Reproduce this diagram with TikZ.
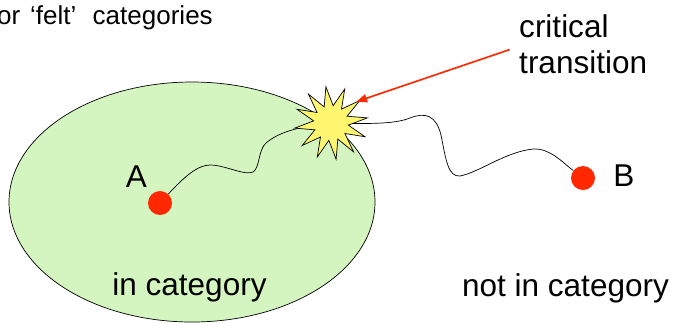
\documentclass[tikz,border=0pt]{standalone}
\usepackage{fontspec}
\setmainfont{Liberation Sans}
\usepackage{xcolor}
\usetikzlibrary{positioning, arrows.meta, shapes.geometric, backgrounds}
\definecolor{catgreen}{RGB}{212,245,192}
\definecolor{dotred}{RGB}{255,40,0}
\definecolor{burstyellow}{RGB}{255,245,110}
\tikzset{
    dot/.style={circle, fill=dotred, minimum size=0.72cm, inner sep=0pt},
    bigtext/.style={font=\fontsize{26.9}{30.7}\selectfont, inner sep=0pt},
    smalltext/.style={font=\fontsize{22.2}{26}\selectfont, inner sep=0pt},
    walk/.style={line width=0.6pt},
}

\begin{document}
\begin{tikzpicture}[x=0.03cm, y=-0.03cm]
    \useasboundingbox (0,0) rectangle (677,322);
    \clip (0,0) rectangle (677,322);
    \node[smalltext, anchor=base east] (title) at (213,24) {or\hspace{0.1em} ‘felt’\hspace{0.35em} categories};
    \node[dot] (A) at (160,203) {};
    \node[dot] (B) at (583,178) {};
    \node[star, star points=12, star point ratio=2.1, minimum size=2.2cm, inner sep=0pt,
          shape border rotate=8, draw, line width=0.6pt, fill=burstyellow] (burst) at (331,123) {};
    \node[bigtext, anchor=base] (labA) at (136.5,187) {A};
    \node[bigtext, anchor=base] (labB) at (624,186) {B};
    \node[bigtext, anchor=base] (incat) at (189.5,295) {in category};
    \node[bigtext, anchor=base] (notcat) at (565.5,296) {not in category};
    \node[bigtext, anchor=base west, align=left] (crit) at (519,73) {critical\\transition};
    \begin{scope}[on background layer]
        \draw[fill=catgreen, line width=0.6pt] (192,202) ellipse [x radius=183, y radius=120];
        \draw[walk] (A) .. controls (185,176) and (198,165) .. (210,165)
            .. controls (225,165) and (245,176) .. (253,172)
            .. controls (260,168) and (258,150) .. (266,143)
            .. controls (278,133) and (295,127) .. (burst.center);
        \draw[walk] (burst.center) .. controls (370,124) and (395,124) .. (410,118)
            .. controls (425,112) and (436,115) .. (441,135)
            .. controls (446,160) and (448,177) .. (460,176)
            .. controls (480,172) and (505,152) .. (533,149)
            .. controls (550,148) and (562,162) .. (B);
    \end{scope}
    \draw[-{Triangle[length=9pt, width=7pt]}, dotred, line width=1.4pt] ([xshift=-8pt, yshift=-5pt]crit.west) -- (burst.40);
\end{tikzpicture}
\end{document}
